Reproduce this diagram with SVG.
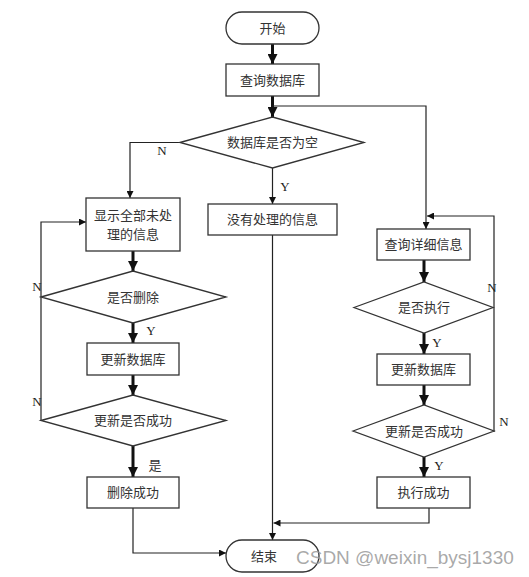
<svg xmlns="http://www.w3.org/2000/svg" width="529" height="577" viewBox="0 0 529 577">
<style>
.box{fill:#fff;stroke:#333;stroke-width:1.3}
.t{font-family:"Noto Sans CJK SC","Liberation Serif",sans-serif;font-size:13px;fill:#333;text-anchor:middle}
.lb{font-family:"Liberation Serif","Noto Sans CJK SC",serif;font-size:13px;fill:#222;text-anchor:middle}
.thin{fill:none;stroke:#222;stroke-width:1.2}
.thick{fill:none;stroke:#111;stroke-width:3}
.wm{font-family:"Liberation Sans",Arial,sans-serif;font-size:19px;fill:#9a9a9a;fill-opacity:0.85}
</style>
<defs>
<marker id="a" viewBox="0 0 10 10" refX="10" refY="5" markerWidth="8" markerHeight="7" markerUnits="userSpaceOnUse" orient="auto"><path d="M0,0 L10,5 L0,10 z" fill="#111"/></marker>
<marker id="ab" viewBox="0 0 10 10" refX="10" refY="5" markerWidth="10" markerHeight="10" markerUnits="userSpaceOnUse" orient="auto"><path d="M0,0 L10,5 L0,10 z" fill="#111"/></marker>
</defs>
<rect width="529" height="577" fill="#fff"/>
<g id="connectors">
<path class="thick" d="M272.5,44 V64" marker-end="url(#ab)"/>
<path class="thick" d="M272.5,96 V117" marker-end="url(#ab)"/>
<path class="thin" d="M272.5,106 H426 V229" marker-end="url(#a)"/>
<path class="thin" d="M180,142.5 H130 V198" marker-end="url(#a)"/>
<path class="thin" d="M272.5,168 V204" marker-end="url(#a)"/>
<path class="thin" d="M272.5,235 V540" marker-end="url(#a)"/>
<path class="thick" d="M133,251 V271" marker-end="url(#ab)"/>
<path class="thick" d="M133,323 V343" marker-end="url(#ab)"/>
<path class="thick" d="M133,375 V395" marker-end="url(#ab)"/>
<path class="thick" d="M133,446 V477" marker-end="url(#ab)"/>
<path class="thin" d="M133,508 V553 H226" marker-end="url(#a)"/>
<path class="thin" d="M41,421 V222 H86" marker-end="url(#a)"/>
<path class="thick" d="M424,260 V282" marker-end="url(#ab)"/>
<path class="thick" d="M424,333 V354" marker-end="url(#ab)"/>
<path class="thick" d="M424,385 V405" marker-end="url(#ab)"/>
<path class="thick" d="M424,457 V477" marker-end="url(#ab)"/>
<path class="thin" d="M494,432 V216 H427" marker-end="url(#a)"/>
<path class="thin" d="M429,508 V523 H273.5" marker-end="url(#a)"/>
<text class="lb" x="162" y="155">N</text>
<text class="lb" x="285" y="191">Y</text>
<text class="lb" x="37" y="291">N</text>
<text class="lb" x="151" y="335">Y</text>
<text class="lb" x="37" y="406">N</text>
<text class="t" x="155" y="470">是</text>
<text class="lb" x="492" y="292">N</text>
<text class="lb" x="437" y="347">Y</text>
<text class="lb" x="504" y="426">N</text>
<text class="lb" x="439" y="470">Y</text>
</g>
<g id="start"><rect class="box" x="226" y="12" width="93" height="32" rx="16"/><text class="t" x="272.5" y="32.5">开始</text></g>
<g id="query"><rect class="box" x="226" y="64" width="93" height="32"/><text class="t" x="272.5" y="84.5">查询数据库</text></g>
<g id="isEmpty"><polygon class="box" points="180,142.5 272.5,117 364,142.5 272.5,168"/><text class="t" x="272.5" y="147">数据库是否为空</text></g>
<g id="showAll"><rect class="box" x="86" y="198" width="94" height="53"/><text class="t" x="133" y="219.5">显示全部未处</text><text class="t" x="133" y="238.5">理的信息</text></g>
<g id="noInfo"><rect class="box" x="208" y="204" width="129" height="31"/><text class="t" x="272.5" y="224">没有处理的信息</text></g>
<g id="detail"><rect class="box" x="377" y="229" width="93" height="31"/><text class="t" x="423.5" y="249">查询详细信息</text></g>
<g id="isDelete"><polygon class="box" points="41,297 133,271 226,297 133,323"/><text class="t" x="133" y="301.5">是否删除</text></g>
<g id="isExec"><polygon class="box" points="354,307.5 424,282 493,307.5 424,333"/><text class="t" x="424" y="312">是否执行</text></g>
<g id="update1"><rect class="box" x="87" y="343" width="92" height="32"/><text class="t" x="133" y="363.5">更新数据库</text></g>
<g id="update2"><rect class="box" x="377" y="354" width="93" height="31"/><text class="t" x="423.5" y="374">更新数据库</text></g>
<g id="ok1"><polygon class="box" points="41,420.5 133,395 226,420.5 133,446"/><text class="t" x="133" y="425">更新是否成功</text></g>
<g id="ok2"><polygon class="box" points="353,431 424,405 494,431 424,457"/><text class="t" x="424" y="435.5">更新是否成功</text></g>
<g id="delOk"><rect class="box" x="87" y="477" width="92" height="31"/><text class="t" x="133" y="497">删除成功</text></g>
<g id="execOk"><rect class="box" x="377" y="477" width="93" height="31"/><text class="t" x="423.5" y="497">执行成功</text></g>
<g id="end"><rect class="box" x="226" y="540" width="93" height="32" rx="16"/><text class="t" x="264" y="560.5">结束</text></g>
<text class="wm" x="296" y="564">CSDN @weixin_bysj1330</text>
</svg>
